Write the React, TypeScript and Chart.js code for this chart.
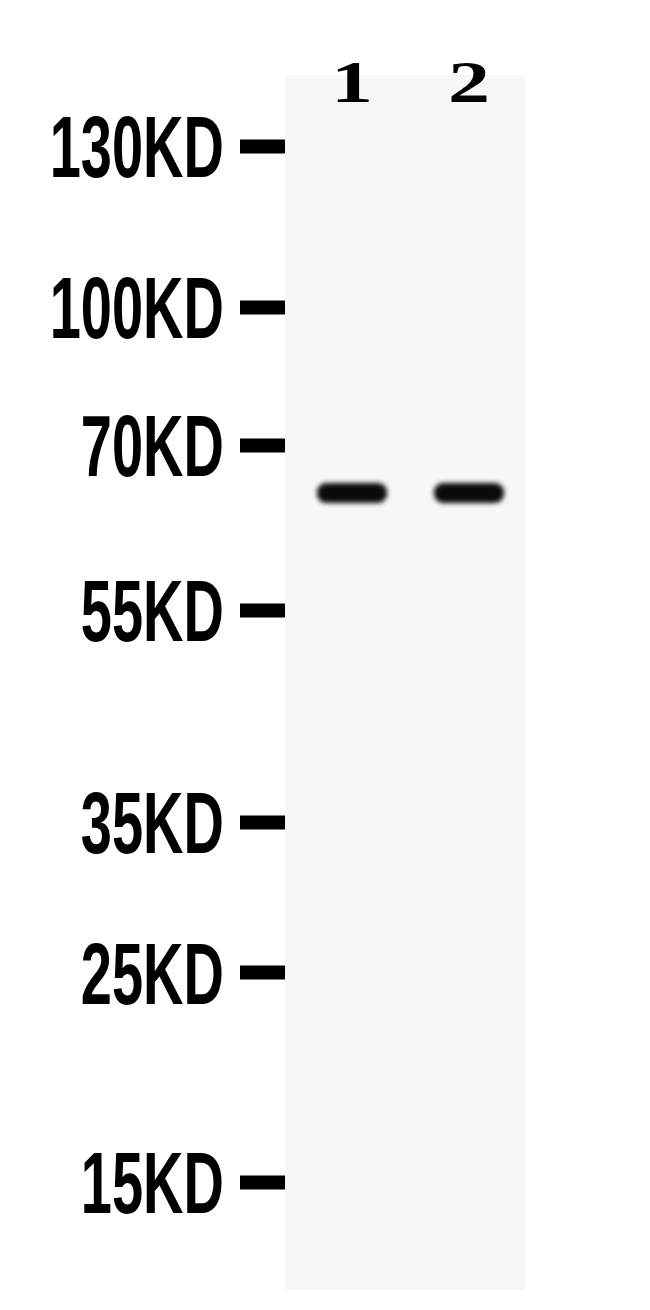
import React, { useEffect, useRef } from 'react';
import { Chart, registerables } from 'chart.js';

Chart.register(...registerables);

// marker ladder, migration in mm from the wells
const markerLabels = ['130KD', '100KD', '70KD', '55KD', '35KD', '25KD', '15KD'];
const markerMigration = [7.1, 23.2, 37.0, 53.5, 74.7, 89.8, 110.7];

// sample lanes
const laneLabels = ['1', '2'];
const laneNumbers = [1, 2];
const bandMigration = [41.8, 41.8];

const makeBand = () => {
  const c = document.createElement('canvas');
  c.width = 100;
  c.height = 44;
  const g = c.getContext('2d');
  g.filter = 'blur(2.5px)';
  g.fillStyle = '#0a0a0a';
  g.beginPath();
  g.roundRect(15, 12, 70, 20, 9);
  g.fill();
  return c;
};

const blotPlugin = {
  id: 'blot',
  beforeDraw(chart) {
    const { ctx, chartArea: a } = chart;
    ctx.save();
    ctx.fillStyle = '#f7f7f7';
    ctx.fillRect(a.left, a.top, a.right - a.left, a.bottom - a.top);
    ctx.restore();
  },
  afterDraw(chart) {
    const { ctx } = chart;
    const ys = chart.scales.y;
    const xs = chart.scales.x;
    ctx.save();
    ctx.fillStyle = '#000';
    ctx.textBaseline = 'alphabetic';

    // marker names, tall and narrow like the original
    ctx.font = 'bold 70px "Liberation Sans", Arial, sans-serif';
    ctx.textAlign = 'right';
    markerLabels.forEach((t, i) => {
      const py = ys.getPixelForValue(markerMigration[i]);
      ctx.save();
      ctx.translate(ys.right - 61, py);
      ctx.scale(0.8, 1.25);
      ctx.fillText(t, 0, 25);
      ctx.restore();
    });

    // lane numbers
    ctx.font = 'bold 60px "Liberation Serif", serif';
    ctx.textAlign = 'center';
    laneLabels.forEach((t, i) => {
      const px = xs.getPixelForValue(laneNumbers[i]);
      ctx.save();
      ctx.translate(px, xs.bottom + 27);
      ctx.scale(1.4, 1);
      ctx.fillText(t, 0, 0);
      ctx.restore();
    });
    ctx.restore();
  },
};

const App = () => {
  const chartRef = useRef(null);

  useEffect(() => {
    document.body.style.margin = '0';
    const band = makeBand();

    const myChart = new Chart(chartRef.current, {
      type: 'scatter',
      data: {
        datasets: [
          {
            data: laneNumbers.map((l, i) => ({ x: l, y: bandMigration[i] })),
            pointStyle: band,
            pointRadius: 10,
          },
        ],
      },
      options: {
        animation: false,
        responsive: true,
        maintainAspectRatio: false,
        events: [],
        layout: { padding: { right: 125, bottom: 20 } },
        plugins: { legend: { display: false }, tooltip: { enabled: false } },
        scales: {
          x: {
            type: 'linear',
            position: 'top',
            min: 0.427,
            max: 2.479,
            afterBuildTicks: (s) => {
              s.ticks = laneNumbers.map((v) => ({ value: v }));
            },
            afterFit: (s) => {
              s.height = 75;
            },
            ticks: { display: false },
            grid: { display: false },
            border: { display: false },
          },
          y: {
            type: 'linear',
            reverse: true,
            min: 0,
            max: 121.5,
            afterBuildTicks: (s) => {
              s.ticks = markerMigration.map((v) => ({ value: v }));
            },
            afterFit: (s) => {
              s.width = 285;
            },
            ticks: { display: false },
            grid: {
              drawOnChartArea: false,
              drawTicks: true,
              tickLength: 45,
              tickWidth: 14,
              tickColor: '#000',
            },
            border: { display: false },
          },
        },
      },
      plugins: [blotPlugin],
    });

    return () => {
      myChart.destroy();
    };
  }, []);

  return (
    <div style={{ position: 'relative', width: 650, height: 1310 }}>
      <canvas ref={chartRef} />
    </div>
  );
};

export default App;
